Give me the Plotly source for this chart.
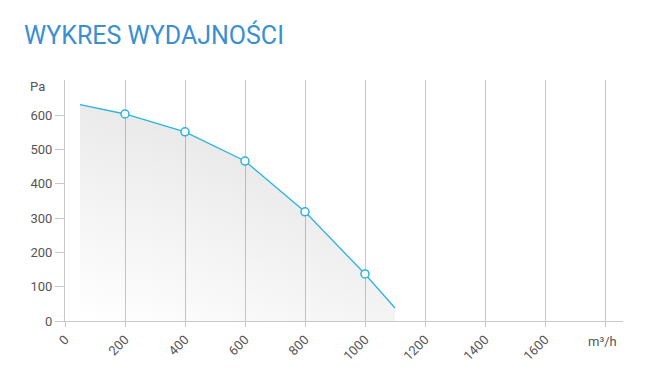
import plotly.graph_objects as go

title = "WYKRES WYDAJNOŚCI"
flow = [50, 200, 400, 600, 800, 1000, 1100]
pressure = [630, 603, 551, 466, 318, 137, 38]
marker_flow = flow[1:-1]
marker_pressure = pressure[1:-1]
x_ticks = [0, 200, 400, 600, 800, 1000, 1200, 1400, 1600]
y_ticks = [0, 100, 200, 300, 400, 500, 600]
x_unit = "m³/h"
y_unit = "Pa"

line_color = "#2ab4de"
grid_color = "#c8c8c8"
text_color = "#555555"

fig = go.Figure()
# base layer: horizontal shading (gives diagonal look combined with vertical layer)
fig.add_trace(go.Scatter(
    x=flow, y=pressure, mode="none",
    fill="tozeroy",
    fillgradient=dict(type="horizontal",
                      colorscale=[[0, "rgba(0,0,0,0)"], [1, "rgba(0,0,0,0.045)"]]),
    hoverinfo="skip", showlegend=False,
))
fig.add_trace(go.Scatter(
    x=flow, y=pressure, mode="lines",
    line=dict(color=line_color, width=1.3),
    fill="tozeroy",
    fillgradient=dict(type="vertical",
                      colorscale=[[0, "rgba(0,0,0,0)"], [1, "rgba(0,0,0,0.08)"]]),
    hoverinfo="skip", showlegend=False,
))
fig.add_trace(go.Scatter(
    x=marker_flow, y=marker_pressure, mode="markers",
    marker=dict(size=8, color="white", line=dict(color=line_color, width=1.5)),
    showlegend=False,
))

fig.update_layout(
    width=650, height=381,
    margin=dict(l=65, r=27, t=80, b=60),
    paper_bgcolor="white", plot_bgcolor="white",
    font=dict(family="Roboto", size=13, color=text_color),
    title=dict(text=title, x=24/650, xref="container", xanchor="left",
               y=1 - 35/381, yref="container", yanchor="middle",
               font=dict(family="Roboto", size=25, color="#3a8fd0")),
    xaxis=dict(range=[0, 1860], tickvals=x_ticks + [1800], ticktext=[str(v) for v in x_ticks] + [""],
               tickangle=-45, showgrid=True, gridcolor=grid_color, gridwidth=1,
               ticks="outside", ticklen=5, tickcolor=grid_color,
               showline=True, linecolor=grid_color, linewidth=1, zeroline=False),
    yaxis=dict(range=[0, 702], tickvals=y_ticks, showgrid=False,
               ticks="outside", ticklen=9, tickcolor=grid_color,
               showline=True, linecolor=grid_color, linewidth=1, zeroline=False),
)

fig.add_annotation(text=y_unit, x=0, y=700, xref="x", yref="y", xanchor="right", yanchor="middle",
                   xshift=-18, yshift=-6, showarrow=False, font=dict(size=13, color=text_color))
fig.add_annotation(text=x_unit, x=1800, y=0, xref="x", yref="y", xanchor="center", yanchor="middle",
                   xshift=-3, yshift=-20, showarrow=False, font=dict(size=13, color=text_color))

fig.write_html("out.html")
